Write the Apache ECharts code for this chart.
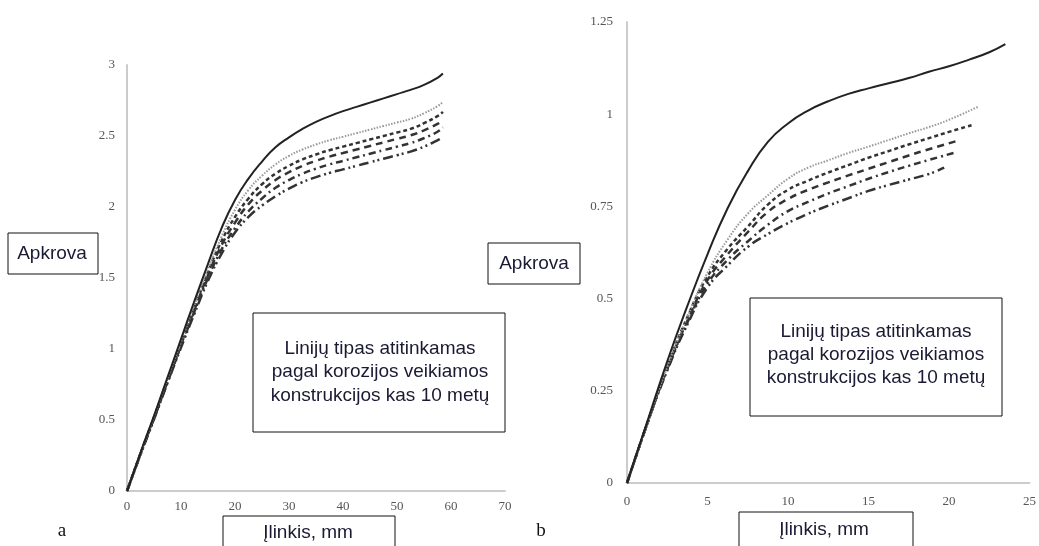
<!DOCTYPE html>
<html>
<head>
<meta charset="utf-8">
<script src="https://cdn.jsdelivr.net/npm/echarts@6/dist/echarts.min.js"></script>
<style>
  html, body { margin: 0; padding: 0; background: #fff; }
  #chart { width: 1039px; height: 546px; }
</style>
</head>
<body>
<div id="chart"></div>
<script>
// a) deflection (mm) vs load, six curves (every 10 years of corrosion)
// x step 2.5 mm, last point of every curve at aEndX
const aX = [0, 2.5, 5, 7.5, 10, 12.5, 15, 17.5, 20, 22.5, 25, 27.5, 30, 32.5, 35, 37.5, 40, 42.5, 45, 47.5, 50, 52.5, 55, 57.5];
const aEndX = 58.5;
const aSolid = [0, 0.27, 0.53, 0.8, 1.07, 1.34, 1.6, 1.85, 2.05, 2.2, 2.32, 2.42, 2.49, 2.55, 2.6, 2.64, 2.675, 2.705, 2.735, 2.765, 2.795, 2.825, 2.86, 2.91, 2.94];
const aDot = [0, 0.265, 0.525, 0.79, 1.05, 1.31, 1.56, 1.79, 1.98, 2.12, 2.22, 2.3, 2.36, 2.405, 2.44, 2.47, 2.495, 2.52, 2.545, 2.57, 2.595, 2.62, 2.66, 2.71, 2.74];
const aDash = [0, 0.265, 0.52, 0.78, 1.04, 1.29, 1.54, 1.76, 1.93, 2.06, 2.16, 2.235, 2.29, 2.335, 2.37, 2.4, 2.425, 2.45, 2.475, 2.5, 2.525, 2.55, 2.59, 2.64, 2.67];
const aLongDash = [0, 0.26, 0.515, 0.77, 1.03, 1.28, 1.52, 1.73, 1.89, 2.02, 2.115, 2.19, 2.245, 2.29, 2.325, 2.355, 2.38, 2.405, 2.43, 2.455, 2.48, 2.505, 2.54, 2.585, 2.61];
const aDashDot = [0, 0.26, 0.51, 0.765, 1.02, 1.265, 1.5, 1.7, 1.85, 1.97, 2.06, 2.135, 2.19, 2.235, 2.27, 2.3, 2.325, 2.35, 2.375, 2.4, 2.425, 2.45, 2.485, 2.53, 2.56];
const aDashDotDot = [0, 0.255, 0.505, 0.76, 1.01, 1.25, 1.48, 1.67, 1.82, 1.93, 2.01, 2.075, 2.13, 2.175, 2.21, 2.24, 2.265, 2.29, 2.315, 2.34, 2.365, 2.39, 2.425, 2.47, 2.49];

// b) second beam, x step 1.25 mm; each curve stops at its own end x
const bX = [0, 1.25, 2.5, 3.75, 5, 6.25, 7.5, 8.75, 10, 11.25, 12.5, 13.75, 15, 16.25, 17.5, 18.75, 20, 21.25, 22.5];
const bEndX = [23.5, 21.8, 21.4, 20.7, 20.3, 19.7];
const bSolid = [0, 0.165, 0.33, 0.48, 0.62, 0.745, 0.845, 0.925, 0.975, 1.01, 1.035, 1.055, 1.07, 1.084, 1.098, 1.115, 1.13, 1.148, 1.168, 1.19];
const bDot = [0, 0.16, 0.315, 0.45, 0.57, 0.66, 0.73, 0.78, 0.825, 0.855, 0.875, 0.895, 0.912, 0.93, 0.948, 0.965, 0.985, 1.02];
const bDash = [0, 0.16, 0.315, 0.45, 0.56, 0.635, 0.695, 0.755, 0.795, 0.82, 0.842, 0.862, 0.882, 0.9, 0.918, 0.935, 0.952, 0.97];
const bLongDash = [0, 0.16, 0.31, 0.44, 0.55, 0.62, 0.68, 0.735, 0.77, 0.795, 0.815, 0.834, 0.852, 0.87, 0.888, 0.905, 0.93];
const bDashDot = [0, 0.16, 0.31, 0.435, 0.54, 0.605, 0.655, 0.7, 0.737, 0.762, 0.785, 0.805, 0.825, 0.843, 0.86, 0.876, 0.895];
const bDashDotDot = [0, 0.16, 0.305, 0.43, 0.53, 0.59, 0.64, 0.675, 0.705, 0.73, 0.752, 0.772, 0.792, 0.808, 0.823, 0.838, 0.855];

const aTicksX = { min: 0, max: 70, interval: 10 };
const aTicksY = { min: 0, max: 3, interval: 0.5 };
const bTicksX = { min: 0, max: 25, interval: 5 };
const bTicksY = { min: 0, max: 1.25, interval: 0.25 };

const styles = [
  { color: '#222', width: 2, type: 'solid' },
  { color: '#999', width: 2, type: [1.5, 1.5] },
  { color: '#333', width: 2.5, type: [4, 3] },
  { color: '#333', width: 2.5, type: [7, 5] },
  { color: '#333', width: 2.5, type: [7, 4, 2, 4] },
  { color: '#333', width: 2.5, type: [10, 4, 2, 3, 2, 4] },
];

function pairs(xs, ys, endX) {
  return ys.map((y, i) => [i < ys.length - 1 ? xs[i] : endX, y]);
}

const seriesList = [];
[aSolid, aDot, aDash, aLongDash, aDashDot, aDashDotDot].forEach((v, i) => {
  seriesList.push({
    type: 'line', xAxisIndex: 0, yAxisIndex: 0, symbol: 'none', smooth: 0.5,
    lineStyle: styles[i], data: pairs(aX, v, aEndX), z: 10 - i,
  });
});
[bSolid, bDot, bDash, bLongDash, bDashDot, bDashDotDot].forEach((v, i) => {
  seriesList.push({
    type: 'line', xAxisIndex: 1, yAxisIndex: 1, symbol: 'none', smooth: 0.5,
    lineStyle: styles[i], data: pairs(bX, v, bEndX[i]), z: 10 - i,
  });
});

const tickFont = { fontFamily: 'Liberation Serif', fontSize: 13, color: '#555' };
function xAxis(ticks, grid, margin) {
  return {
    type: 'value', gridIndex: grid, ...ticks,
    axisLine: { lineStyle: { color: '#ccc', width: 2 } },
    axisTick: { show: false }, splitLine: { show: false },
    axisLabel: { ...tickFont, margin },
  };
}
function yAxis(ticks, grid, margin) {
  return {
    type: 'value', gridIndex: grid, ...ticks,
    axisLine: { show: true, lineStyle: { color: '#ccc', width: 2 } },
    axisTick: { show: false }, splitLine: { show: false },
    axisLabel: { ...tickFont, margin },
  };
}

function box(x, y, w, h) {
  return { type: 'rect', shape: { x, y, width: w, height: h }, style: { fill: '#fff', stroke: '#111', lineWidth: 1 }, z: 100 };
}
function label(x, y, text, font, extra) {
  return {
    type: 'text', x, y, z: 101,
    style: { text, font, fill: '#1a1a33', align: 'center', verticalAlign: 'middle', ...extra },
  };
}
const note = 'Linijų tipas atitinkamas\npagal korozijos veikiamos\nkonstrukcijos kas 10 metų';
const sans = '19px Liberation Sans';

const option = {
  animation: false,
  backgroundColor: '#fff',
  grid: [
    { left: 127, top: 65, width: 378, height: 426 },
    { left: 627, top: 22, width: 404, height: 461 },
  ],
  xAxis: [xAxis(aTicksX, 0, 9), xAxis(bTicksX, 1, 12)],
  yAxis: [yAxis(aTicksY, 0, 12), yAxis(bTicksY, 1, 14)],
  series: seriesList,
  graphic: [
    box(8, 233, 90, 41), label(52, 254, 'Apkrova', sans),
    box(488, 243, 92, 41), label(534, 264, 'Apkrova', sans),
    box(253, 313, 252, 119), label(380, 372, note, sans, { lineHeight: 23.5 }),
    box(750, 298, 252, 118), label(876, 355, note, sans, { lineHeight: 23 }),
    box(223, 516, 172, 40), label(308, 533, 'Įlinkis, mm', sans),
    box(739, 512, 174, 40), label(824, 530, 'Įlinkis, mm', sans),
    label(62, 531, 'a', '19px Liberation Serif', { fill: '#111' }),
    label(541, 531, 'b', '19px Liberation Serif', { fill: '#111' }),
  ],
};

const myChart = echarts.init(document.getElementById('chart'));
myChart.setOption(option);
</script>
</body>
</html>
